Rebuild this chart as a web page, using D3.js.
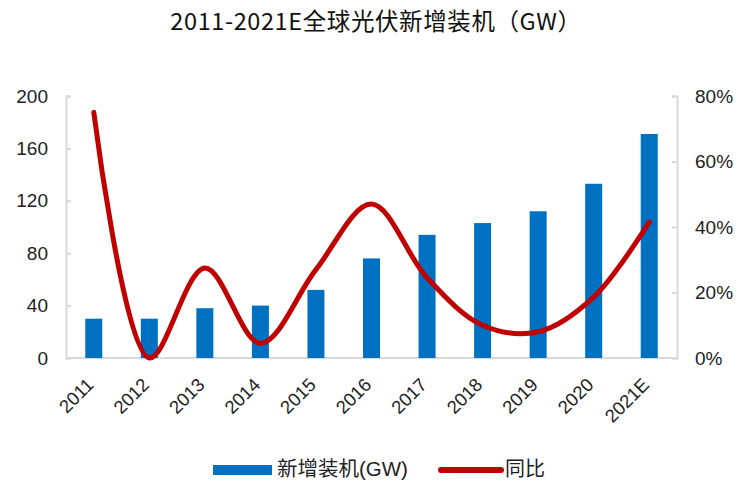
<!DOCTYPE html>
<html>
<head>
<meta charset="utf-8">
<script src="https://cdn.jsdelivr.net/npm/d3@7"></script>
<style>
  body { margin: 0; background: #fff; }
  svg { display: block; }
</style>
</head>
<body>
<svg id="chart"></svg>
<script>
const years = ['2011', '2012', '2013', '2014', '2015', '2016', '2017', '2018', '2019', '2020', '2021E']
const installed = [30, 30, 38, 40, 52, 76, 94, 103, 112, 133, 171]
const yoy = [0.75, 0.0, 0.275, 0.045, 0.27, 0.47, 0.245, 0.10, 0.08, 0.186, 0.415]
const leftTicks = [0, 40, 80, 120, 160, 200]
const rightTicks = [0, 0.2, 0.4, 0.6, 0.8]

const width = 742, height = 483
const margin = { top: 96, right: 65, bottom: 125, left: 66 }
const numFont = '"Liberation Sans", Arial, sans-serif'
const cjkFont = '"Noto Sans CJK SC", "Microsoft YaHei", sans-serif'

let svg = d3.select('#chart')
    .attr('width', width)
    .attr('height', height)

let x = d3.scaleBand()
    .domain(years)
    .range([margin.left, width - margin.right])

let y = d3.scaleLinear()
    .domain([0, 200])
    .range([height - margin.bottom, margin.top])

let y2 = d3.scaleLinear()
    .domain([0, 0.8])
    .range([height - margin.bottom, margin.top])

// Title
svg.append('text')
    .attr('x', width / 2 + 5)
    .attr('y', 30)
    .attr('text-anchor', 'middle')
    .style('font-family', cjkFont)
    .style('font-size', '23.5px')
    .style('letter-spacing', '0.6px')
    .style('fill', '#111')
    .text('2011-2021E全球光伏新增装机（GW）')

// Left axis
let leftAxis = svg.append('g')
    .attr('transform', 'translate(' + margin.left + ',0)')
    .call(d3.axisLeft(y).tickValues(leftTicks).tickSize(-5).tickPadding(18))
leftAxis.select('.domain').attr('stroke', '#d9d9d9').attr('stroke-width', 2)
leftAxis.selectAll('.tick line').attr('stroke', '#d9d9d9').attr('stroke-width', 2)
leftAxis.selectAll('.tick text')
    .style('font-family', numFont)
    .style('font-size', '19px')
    .style('fill', '#222')

// Right axis
let rightAxis = svg.append('g')
    .attr('transform', 'translate(' + (width - margin.right) + ',0)')
    .call(d3.axisRight(y2).tickValues(rightTicks).tickFormat(d3.format('.0%')).tickSize(-5).tickPadding(18))
rightAxis.select('.domain').attr('stroke', '#d9d9d9').attr('stroke-width', 2)
rightAxis.selectAll('.tick line').attr('stroke', '#d9d9d9').attr('stroke-width', 2)
rightAxis.selectAll('.tick text')
    .style('font-family', numFont)
    .style('font-size', '19px')
    .style('fill', '#222')

// Bottom axis line
svg.append('line')
    .attr('x1', margin.left)
    .attr('x2', width - margin.right)
    .attr('y1', y(0))
    .attr('y2', y(0))
    .attr('stroke', '#d9d9d9')
    .attr('stroke-width', 2)

// Category labels (rotated)
svg.append('g').selectAll('text')
    .data(years)
    .enter().append('text')
    .attr('transform', d => 'translate(' + (x(d) + x.bandwidth() / 2 + 1) + ',' + (y(0) + 28) + ')rotate(-45)')
    .attr('text-anchor', 'end')
    .style('font-family', numFont)
    .style('font-size', '18.5px')
    .style('fill', '#222')
    .text(d => d)

// Bars
const barW = 17
svg.append('g').selectAll('rect')
    .data(years)
    .enter().append('rect')
    .attr('x', (d) => x(d) + x.bandwidth() / 2 - barW / 2)
    .attr('y', (d, i) => y(installed[i]))
    .attr('width', barW)
    .attr('height', (d, i) => y(0) - y(installed[i]))
    .style('fill', '#0070c0')

// YoY line
let line = d3.line()
    .x((d, i) => x(years[i]) + x.bandwidth() / 2)
    .y(d => y2(d))
    .curve(d3.curveCatmullRom.alpha(0.5))

svg.append('path')
    .datum(yoy)
    .attr('d', line)
    .attr('fill', 'none')
    .attr('stroke', '#c00000')
    .attr('stroke-width', 5)
    .attr('stroke-linecap', 'round')

// Legend
let legend = svg.append('g')
legend.append('rect')
    .attr('x', 213)
    .attr('y', 465)
    .attr('width', 59)
    .attr('height', 10)
    .style('fill', '#0070c0')
let legText = legend.append('text')
    .attr('x', 277)
    .attr('y', 476)
    .style('font-family', cjkFont)
    .style('font-size', '20.5px')
    .style('fill', '#222')
legText.append('tspan').text('新增装机')
legText.append('tspan').style('font-family', numFont).text('(GW)')
legend.append('line')
    .attr('x1', 441)
    .attr('x2', 501)
    .attr('y1', 470)
    .attr('y2', 470)
    .attr('stroke', '#c00000')
    .attr('stroke-width', 6)
    .attr('stroke-linecap', 'round')
legend.append('text')
    .attr('x', 505)
    .attr('y', 476)
    .style('font-family', cjkFont)
    .style('font-size', '20px')
    .style('fill', '#222')
    .text('同比')
</script>
</body>
</html>
